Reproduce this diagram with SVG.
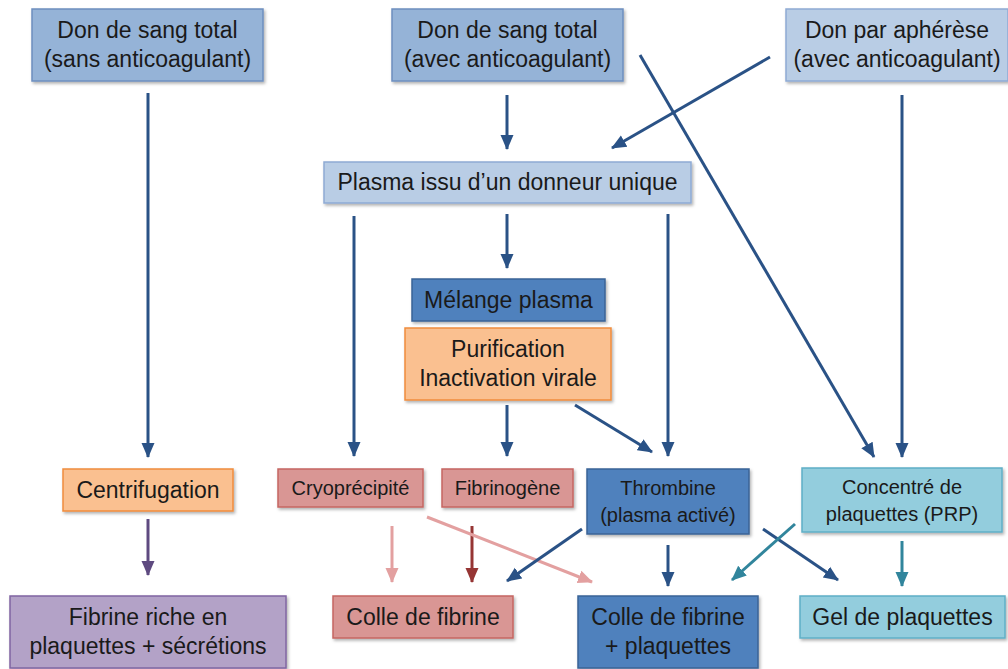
<svg xmlns="http://www.w3.org/2000/svg" width="1008" height="669" viewBox="0 0 1008 669">
<style>
text{font-family:"Liberation Sans",Arial,sans-serif;fill:#1a1a1a;text-anchor:middle}
.L{font-size:23px}
.S{font-size:20px}
rect{stroke-width:1.5;filter:url(#sh)}
.b1{fill:#95b3d7;stroke:#6e8fbf}
.b2{fill:#b9cde5;stroke:#8eaad4}
.b3{fill:#4f81bd;stroke:#3a6496}
.or{fill:#fac090;stroke:#f08c3c}
.rd{fill:#d99694;stroke:#c56662}
.pu{fill:#b3a2c7;stroke:#8064a2}
.tq{fill:#93cddd;stroke:#5fafc6}
.a{fill:none;stroke-width:3}
.db{stroke:#2a5286;marker-end:url(#mdb)}
.pp{stroke:#5e4a80;marker-end:url(#mpp)}
.lp{stroke:#e3a0a0;marker-end:url(#mlp)}
.dr{stroke:#963534;marker-end:url(#mdr)}
.tl{stroke:#31859c;marker-end:url(#mtl)}
</style>
<defs>
<filter id="sh" x="-10%" y="-10%" width="120%" height="130%">
<feDropShadow dx="1.5" dy="2" stdDeviation="1.5" flood-color="#000" flood-opacity="0.3"/>
</filter>
<marker id="mdb" markerUnits="userSpaceOnUse" markerWidth="15" markerHeight="15" viewBox="0 0 15 15" refX="14" refY="7.5" orient="auto"><path d="M0,1 L15,7.5 L0,14 Z" fill="#2a5286"/></marker>
<marker id="mpp" markerUnits="userSpaceOnUse" markerWidth="15" markerHeight="15" viewBox="0 0 15 15" refX="14" refY="7.5" orient="auto"><path d="M0,1 L15,7.5 L0,14 Z" fill="#5e4a80"/></marker>
<marker id="mlp" markerUnits="userSpaceOnUse" markerWidth="15" markerHeight="15" viewBox="0 0 15 15" refX="14" refY="7.5" orient="auto"><path d="M0,1 L15,7.5 L0,14 Z" fill="#e3a0a0"/></marker>
<marker id="mdr" markerUnits="userSpaceOnUse" markerWidth="15" markerHeight="15" viewBox="0 0 15 15" refX="14" refY="7.5" orient="auto"><path d="M0,1 L15,7.5 L0,14 Z" fill="#963534"/></marker>
<marker id="mtl" markerUnits="userSpaceOnUse" markerWidth="15" markerHeight="15" viewBox="0 0 15 15" refX="14" refY="7.5" orient="auto"><path d="M0,1 L15,7.5 L0,14 Z" fill="#31859c"/></marker>
</defs>
<rect width="1008" height="669" fill="#fff" style="filter:none;stroke:none"/>

<g id="connectors">
<line class="a db" x1="148" y1="93" x2="148" y2="457"/>
<line class="a db" x1="507" y1="95" x2="507" y2="149"/>
<line class="a db" x1="770" y1="57" x2="612" y2="148"/>
<line class="a db" x1="640" y1="55" x2="874" y2="457"/>
<line class="a db" x1="902" y1="95" x2="902" y2="457"/>
<line class="a db" x1="354" y1="216" x2="354" y2="456"/>
<line class="a db" x1="507" y1="214" x2="507" y2="268"/>
<line class="a db" x1="668" y1="214" x2="668" y2="456"/>
<line class="a db" x1="507" y1="405" x2="507" y2="456"/>
<line class="a db" x1="575" y1="405" x2="652" y2="452"/>
<line class="a pp" x1="148" y1="519" x2="148" y2="575"/>
<line class="a lp" x1="392" y1="526" x2="392" y2="582"/>
<line class="a dr" x1="472" y1="526" x2="472" y2="582"/>
<line class="a lp" x1="427" y1="517" x2="592" y2="582"/>
<line class="a db" x1="582" y1="529" x2="507" y2="581"/>
<line class="a db" x1="668" y1="545" x2="668" y2="586"/>
<line class="a db" x1="763" y1="529" x2="838" y2="580"/>
<line class="a tl" x1="795" y1="524" x2="732" y2="580"/>
<line class="a tl" x1="902" y1="541" x2="902" y2="586"/>
</g>

<g id="don-sans"><rect class="b1" x="32" y="9" width="231" height="72"/><text class="L" x="147.5" y="38">Don de sang total</text><text class="L" x="147.5" y="67">(sans anticoagulant)</text></g>
<g id="don-avec"><rect class="b1" x="392" y="9" width="231" height="72"/><text class="L" x="507.5" y="38">Don de sang total</text><text class="L" x="507.5" y="67">(avec anticoagulant)</text></g>
<g id="don-apherese"><rect class="b2" x="786" y="9" width="222" height="72"/><text class="L" x="897" y="38">Don par aphérèse</text><text class="L" x="897" y="67">(avec anticoagulant)</text></g>
<g id="plasma"><rect class="b2" x="324" y="162" width="367" height="41"/><text class="L" x="507.5" y="190">Plasma issu d’un donneur unique</text></g>
<g id="melange"><rect class="b3" x="412" y="279" width="193" height="42"/><text class="L" x="508.5" y="308">Mélange plasma</text></g>
<g id="purification"><rect class="or" x="405" y="328" width="206" height="72"/><text class="L" x="508" y="357">Purification</text><text class="L" x="508" y="386">Inactivation virale</text></g>
<g id="centrifugation"><rect class="or" x="63" y="469" width="170" height="42"/><text class="L" x="148" y="498">Centrifugation</text></g>
<g id="cryo"><rect class="rd" x="278" y="469" width="145" height="38"/><text class="S" x="350.5" y="495">Cryoprécipité</text></g>
<g id="fibrinogene"><rect class="rd" x="442" y="469" width="131" height="38"/><text class="S" x="507.5" y="495">Fibrinogène</text></g>
<g id="thrombine"><rect class="b3" x="587" y="469" width="162" height="65"/><text class="S" x="668" y="495">Thrombine</text><text class="S" x="668" y="522">(plasma activé)</text></g>
<g id="concentre"><rect class="tq" x="802" y="468" width="200" height="64"/><text class="S" x="902" y="494">Concentré de</text><text class="S" x="902" y="521">plaquettes (PRP)</text></g>
<g id="fibrine-riche"><rect class="pu" x="10" y="596" width="276" height="72"/><text class="L" x="148" y="625">Fibrine riche en</text><text class="L" x="148" y="654">plaquettes + sécrétions</text></g>
<g id="colle"><rect class="rd" x="333" y="596" width="180" height="42"/><text class="L" x="423" y="625">Colle de fibrine</text></g>
<g id="colle-plaquettes"><rect class="b3" x="578" y="596" width="180" height="72"/><text class="L" x="668" y="625">Colle de fibrine</text><text class="L" x="668" y="654">+ plaquettes</text></g>
<g id="gel"><rect class="tq" x="800" y="596" width="205" height="42"/><text class="L" x="902.5" y="625">Gel de plaquettes</text></g>
</svg>
